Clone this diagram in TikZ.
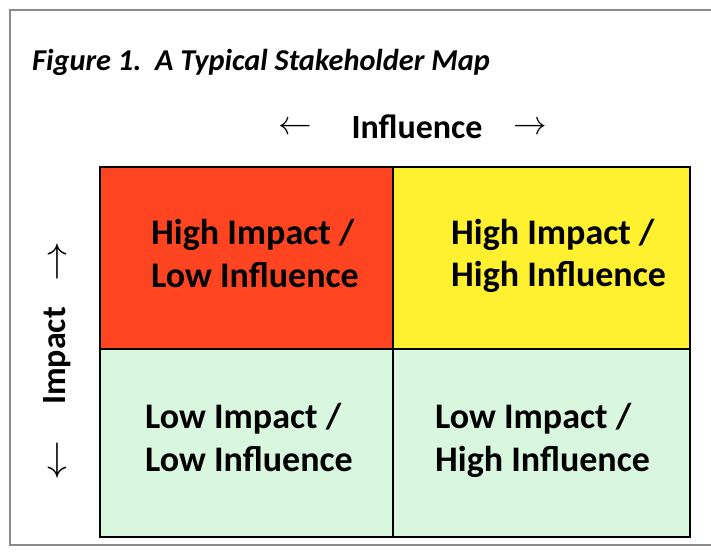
\documentclass[tikz,border=0pt]{standalone}
\usepackage{fontspec}
\setmainfont{Carlito}
\definecolor{qred}{HTML}{FF4422}
\definecolor{qyellow}{HTML}{FFF030}
\definecolor{qgreen}{HTML}{D9F6DF}
\definecolor{framegray}{HTML}{8A8A8A}
\tikzset{
  cell/.style={draw=black, line width=2.4pt},
  qtext/.style={font=\fontsize{36}{42}\selectfont\bfseries, anchor=base west, inner sep=0pt},
  axis/.style={font=\fontsize{34}{40}\selectfont\bfseries, inner sep=0pt},
  arrowsym/.style={font=\fontsize{24}{28}\selectfont, inner sep=0pt}
}
\begin{document}
\begin{tikzpicture}[x=1pt,y=-1pt]
\useasboundingbox (0,0) rectangle (711,555);
\fill[white] (0,0) rectangle (711,555);
% frame
\draw[framegray, line width=1.6pt] (711,10) -- (10,10) -- (10,545) -- (711,545);
% title
\node[anchor=base west, inner sep=0pt, font=\fontsize{30.3}{34}\selectfont\bfseries\itshape] (title) at (32,70) {Figure 1.\ \ A Typical Stakeholder Map};
% cells
\fill[qred] (100,167) rectangle (393,349);
\fill[qyellow] (393,167) rectangle (690,349);
\fill[qgreen] (100,349) rectangle (393,537);
\fill[qgreen] (393,349) rectangle (690,537);
\node[cell, minimum width=293pt, minimum height=182pt, inner sep=0pt] (hl) at (246.5,258) {};
\node[cell, minimum width=297pt, minimum height=182pt, inner sep=0pt] (hh) at (541.5,258) {};
\node[cell, minimum width=293pt, minimum height=188pt, inner sep=0pt] (ll) at (246.5,443) {};
\node[cell, minimum width=297pt, minimum height=188pt, inner sep=0pt] (lh) at (541.5,443) {};
% texts
\node[qtext] (t1a) at (151,244) {High Impact /};
\node[qtext] (t1b) at (151,287) {Low Influence};
\node[qtext] (t2a) at (451,244) {High Impact /};
\node[qtext] (t2b) at (451,286) {High Influence};
\node[qtext] (t3a) at (145,428) {Low Impact /};
\node[qtext] (t3b) at (145,471) {Low Influence};
\node[qtext] (t4a) at (435,428) {Low Impact /};
\node[qtext] (t4b) at (435,471) {High Influence};
% axes
\node[axis, anchor=base] (infl) at (417,138) {Influence};
\node[arrowsym] (la) at (295,128) {\scalebox{1.35}{$\leftarrow$}};
\node[arrowsym] (ra) at (530,128) {\scalebox{1.35}{$\rightarrow$}};
\node[axis, rotate=90] (imp) at (57,356) {Impact};
\node[arrowsym] (ua) at (57,262) {\scalebox{1.6}{$\uparrow$}};
\node[arrowsym] (da) at (57,461) {\scalebox{1.6}{$\downarrow$}};
\end{tikzpicture}
\end{document}
